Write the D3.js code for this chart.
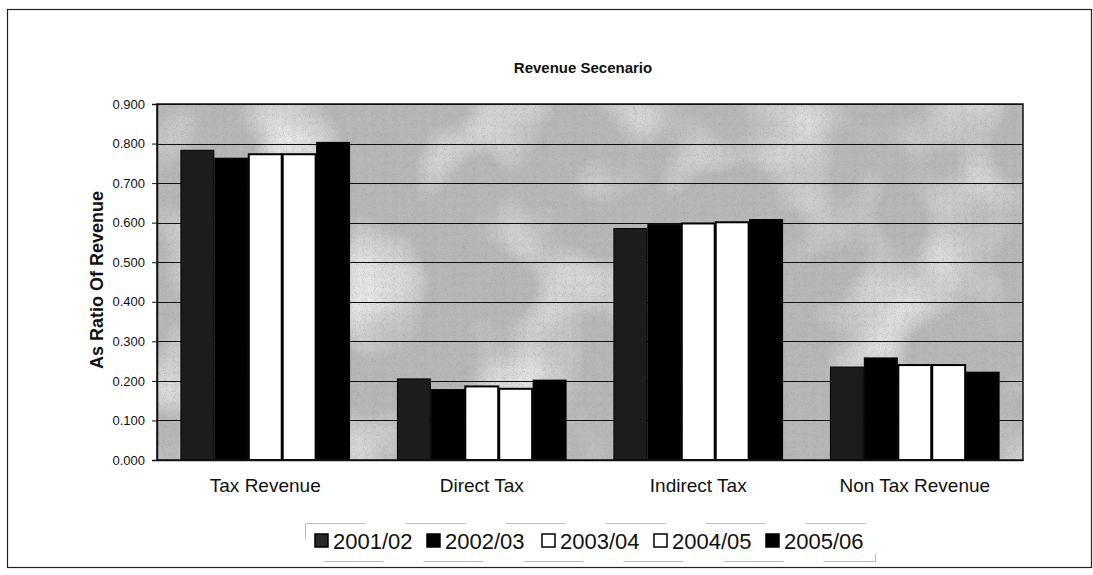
<!DOCTYPE html>
<html><head><meta charset="utf-8">
<script src="https://cdn.jsdelivr.net/npm/d3@7"></script>
<style>body{margin:0;background:#fff;} svg{display:block;font-family:"Liberation Sans",Arial,sans-serif;}</style>
</head><body>
<svg id="c" width="1093" height="575"></svg>
<script>
const categories = ["Tax Revenue", "Direct Tax", "Indirect Tax", "Non Tax Revenue"];
const seriesNames = ["2001/02", "2002/03", "2003/04", "2004/05", "2005/06"];
const s2001 = [0.783, 0.205, 0.585, 0.235];
const s2002 = [0.763, 0.178, 0.595, 0.258];
const s2003 = [0.773, 0.186, 0.598, 0.240];
const s2004 = [0.773, 0.180, 0.601, 0.240];
const s2005 = [0.803, 0.202, 0.608, 0.222];
const seriesValues = [s2001, s2002, s2003, s2004, s2005];
const seriesColors = ["#1c1c1c", "#000000", "#ffffff", "#ffffff", "#000000"];
const yTicks = [0, 0.1, 0.2, 0.3, 0.4, 0.5, 0.6, 0.7, 0.8, 0.9];

const svg = d3.select("#c");
const m = {left:157, right:1023, top:104, bottom:460};

// outer frame
svg.append("rect").attr("x",7.5).attr("y",9.5).attr("width",1084).attr("height",558)
  .attr("fill","#fff").attr("stroke","#222").attr("stroke-width",1.2);

const defs = svg.append("defs");
const f = defs.append("filter").attr("id","tex").attr("x",0).attr("y",0).attr("width","100%").attr("height","100%");
f.append("feTurbulence").attr("type","fractalNoise").attr("baseFrequency","0.012").attr("numOctaves",2).attr("seed",4).attr("result","n");
f.append("feColorMatrix").attr("in","n").attr("type","matrix")
  .attr("values","0 0 0 0 1  0 0 0 0 1  0 0 0 0 1  2.2 0 0 0 -1.05").attr("result","blob");
f.append("feComposite").attr("in","blob").attr("in2","SourceGraphic").attr("operator","in");

const f2 = defs.append("filter").attr("id","grain").attr("x",0).attr("y",0).attr("width","100%").attr("height","100%");
f2.append("feTurbulence").attr("type","turbulence").attr("baseFrequency","0.9").attr("numOctaves",1).attr("seed",2).attr("result","n");
f2.append("feColorMatrix").attr("in","n").attr("type","matrix")
  .attr("values","0 0 0 0 0.3  0 0 0 0 0.3  0 0 0 0 0.3  1.4 0 0 0 -0.1").attr("result","g");
f2.append("feComposite").attr("in","g").attr("in2","SourceGraphic").attr("operator","in");

const x0 = d3.scaleBand().domain(categories).range([m.left, m.right]).padding(0);
const x1 = d3.scaleBand().domain(seriesNames).range([0, x0.bandwidth()]).paddingInner(0).paddingOuter(0.69);
const y = d3.scaleLinear().domain([0, 0.9]).range([m.bottom, m.top]);

// plot background
svg.append("rect").attr("x",m.left).attr("y",m.top).attr("width",m.right-m.left).attr("height",m.bottom-m.top)
  .attr("fill","#b8b8b8");
svg.append("rect").attr("x",m.left).attr("y",m.top).attr("width",m.right-m.left).attr("height",m.bottom-m.top)
  .attr("fill","#fff").attr("filter","url(#tex)").attr("opacity",0.85);
svg.append("rect").attr("x",m.left).attr("y",m.top).attr("width",m.right-m.left).attr("height",m.bottom-m.top)
  .attr("fill","#888").attr("filter","url(#grain)").attr("opacity",0.5);

// gridlines
svg.append("g").selectAll("line").data(yTicks.filter(d=>d>0)).join("line")
  .attr("x1",m.left).attr("x2",m.right).attr("y1",d=>Math.round(y(d))+0.5).attr("y2",d=>Math.round(y(d))+0.5)
  .attr("stroke","#111").attr("stroke-width",1.2);

// bars
const g = svg.append("g");
categories.forEach((c, ci) => {
  seriesNames.forEach((s, si) => {
    const v = seriesValues[si][ci];
    g.append("rect")
      .attr("x", x0(c) + x1(s) + 0.5)
      .attr("y", y(v))
      .attr("width", x1.bandwidth() - 1)
      .attr("height", y(0) - y(v))
      .attr("fill", seriesColors[si])
      .attr("stroke", "#000").attr("stroke-width", si===2||si===3 ? 2 : 1);
  });
});

// plot frame
svg.append("rect").attr("x",m.left).attr("y",m.top).attr("width",m.right-m.left).attr("height",m.bottom-m.top)
  .attr("fill","none").attr("stroke","#111").attr("stroke-width",1.5);

// y axis
const yAxis = d3.axisLeft(y).tickValues(yTicks).tickFormat(d3.format(".3f")).tickSize(5).tickPadding(7);
const ya = svg.append("g").attr("transform",`translate(${m.left},0)`).call(yAxis);
ya.select(".domain").attr("stroke","#111").attr("stroke-width",1.5);
ya.selectAll(".tick line").attr("stroke","#111");
ya.selectAll("text").attr("font-size",13).attr("fill","#111").attr("font-family","'Liberation Sans',Arial,sans-serif");

// x axis
const xAxis = d3.axisBottom(x0).tickSize(0).tickPadding(19);
const xa = svg.append("g").attr("transform",`translate(0,${m.bottom})`).call(xAxis);
xa.select(".domain").attr("stroke","#111").attr("stroke-width",1.5);
xa.selectAll("text").attr("font-size",19).attr("fill","#111").attr("font-family","'Liberation Sans',Arial,sans-serif");

// title
svg.append("text").attr("x",583).attr("y",73).attr("text-anchor","middle")
  .attr("font-size",15).attr("font-weight","bold").attr("fill","#111").text("Revenue Secenario");

// y label
svg.append("text").attr("transform","translate(103,280) rotate(-90)").attr("text-anchor","middle")
  .attr("font-size",18).attr("font-weight","bold").attr("fill","#111").text("As Ratio Of Revenue");

// legend
const lg = svg.append("g");
lg.append("rect").attr("x",305.5).attr("y",523.5).attr("width",570).attr("height",38)
  .attr("fill","none").attr("stroke","#bbb").attr("stroke-width",1).attr("stroke-dasharray","60 40");
const legX = [315, 427, 542, 654, 766];
seriesNames.forEach((s, i) => {
  lg.append("rect").attr("x",legX[i]).attr("y",534).attr("width",13).attr("height",13)
    .attr("fill",seriesColors[i] === "#1c1c1c" ? "#2a2a2a" : seriesColors[i]).attr("stroke","#000").attr("stroke-width",1.5);
  lg.append("text").attr("x",legX[i]+18).attr("y",549).attr("font-size",22).attr("fill","#111").text(s);
});
</script>
</body></html>
